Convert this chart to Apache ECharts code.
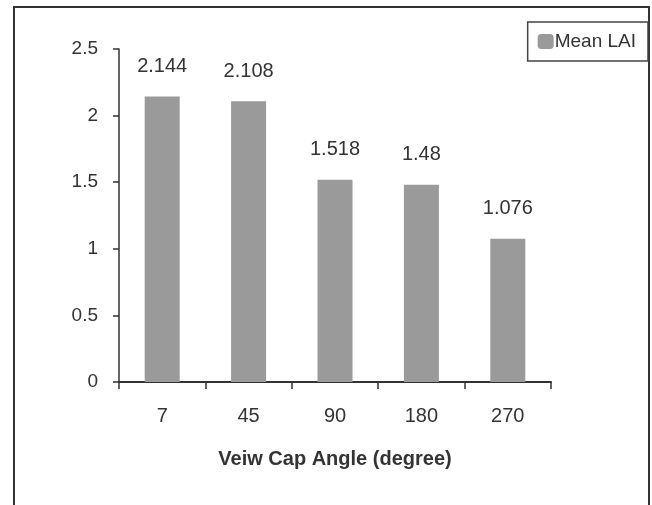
<!DOCTYPE html>
<html>
<head>
<meta charset="utf-8">
<script src="https://cdn.jsdelivr.net/npm/echarts@6/dist/echarts.min.js"></script>
<style>html,body{margin:0;padding:0;background:#fff}#c{width:652px;height:505px}</style>
</head>
<body>
<div id="c"></div>
<script>
var categories = ['7', '45', '90', '180', '270'];
var meanLAI = [2.144, 2.108, 1.518, 1.48, 1.076];
var yTicks = [0, 0.5, 1, 1.5, 2, 2.5];
var seriesName = 'Mean LAI';
var xAxisName = 'Veiw Cap Angle (degree)';

var FONT = "'Liberation Sans', Arial, sans-serif";
var chart = echarts.init(document.getElementById('c'));
chart.setOption({
  animation: false,
  backgroundColor: '#fff',
  graphic: [{
    type: 'rect', shape: {x: 14, y: 7, width: 635, height: 520},
    style: {fill: 'none', stroke: '#333', lineWidth: 2}, silent: true
  }],
  legend: {
    data: [seriesName], right: 4, top: 22,
    orient: 'vertical',
    borderColor: '#444', borderWidth: 1.5, padding: [10, 12, 10, 10],
    itemWidth: 16, itemHeight: 15, itemGap: 2,
    textStyle: {fontFamily: FONT, fontSize: 19, color: '#333', padding: [0,0,0,-4]}
  },
  grid: {left: 119, right: 101, top: 49, bottom: 123, containLabel: false},
  xAxis: {
    type: 'category', data: categories,
    name: xAxisName, nameLocation: 'middle', nameGap: 67,
    nameTextStyle: {fontFamily: FONT, fontSize: 20, fontWeight: 'bold', color: '#333'},
    axisLine: {lineStyle: {color: '#333', width: 2}},
    axisTick: {show: true, length: 7, lineStyle: {color: '#333', width: 1.5}, alignWithLabel: false},
    axisLabel: {fontFamily: FONT, fontSize: 20, color: '#333', margin: 24}
  },
  yAxis: {
    type: 'value', min: yTicks[0], max: yTicks[yTicks.length - 1], interval: 0.5,
    splitLine: {show: false},
    axisLine: {show: true, lineStyle: {color: '#333', width: 1.5}},
    axisTick: {show: true, length: 6, lineStyle: {color: '#333', width: 1.5}},
    axisLabel: {fontFamily: FONT, fontSize: 19, color: '#333', margin: 21}
  },
  series: [{
    name: seriesName, type: 'bar', data: meanLAI, barWidth: 35,
    itemStyle: {color: '#9a9a9a'},
    label: {show: true, position: 'top', distance: 20, fontFamily: FONT, fontSize: 20, color: '#333'}
  }]
});
</script>
</body>
</html>
